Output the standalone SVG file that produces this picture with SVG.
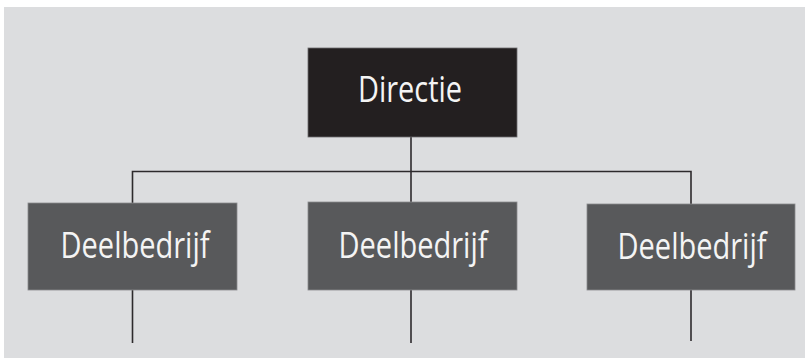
<svg xmlns="http://www.w3.org/2000/svg" width="805" height="358" viewBox="0 0 805 358">
  <style>
    .bg { fill: #dcdddf; }
    .top { fill: #231f20; stroke: #6d6c6e; stroke-width: 0.8; }
    .unit { fill: #58595b; stroke: #8a8b8d; stroke-width: 0.8; }
    .label { font-family: "Open Sans", "DejaVu Sans", sans-serif; font-size: 36px; fill: #f4f4f4; text-anchor: middle; }
    .wire { stroke: #2d2a2c; stroke-width: 1.6; fill: none; stroke-linecap: butt; }
  </style>

  <rect class="bg" x="4" y="7" width="801" height="351"/>

  <g id="connectors">
    <path class="wire" d="M411,137 V203"/>
    <path class="wire" d="M132.5,203 V171.5 H691 V204"/>
    <path class="wire" d="M132.5,290 V343"/>
    <path class="wire" d="M411,290 V343"/>
    <path class="wire" d="M691,290 V341"/>
  </g>

  <g id="directie">
    <rect class="top" x="308" y="48" width="209" height="89"/>
    <text class="label" x="410" y="102" textLength="104" lengthAdjust="spacingAndGlyphs">Directie</text>
  </g>

  <g id="deelbedrijf-1">
    <rect class="unit" x="28" y="203" width="209" height="87"/>
    <text class="label" x="135" y="258" textLength="149" lengthAdjust="spacingAndGlyphs">Deelbedrijf</text>
  </g>

  <g id="deelbedrijf-2">
    <rect class="unit" x="308" y="202" width="209" height="88"/>
    <text class="label" x="413" y="258" textLength="149" lengthAdjust="spacingAndGlyphs">Deelbedrijf</text>
  </g>

  <g id="deelbedrijf-3">
    <rect class="unit" x="587" y="204" width="208" height="86"/>
    <text class="label" x="692" y="259" textLength="149" lengthAdjust="spacingAndGlyphs">Deelbedrijf</text>
  </g>
</svg>
